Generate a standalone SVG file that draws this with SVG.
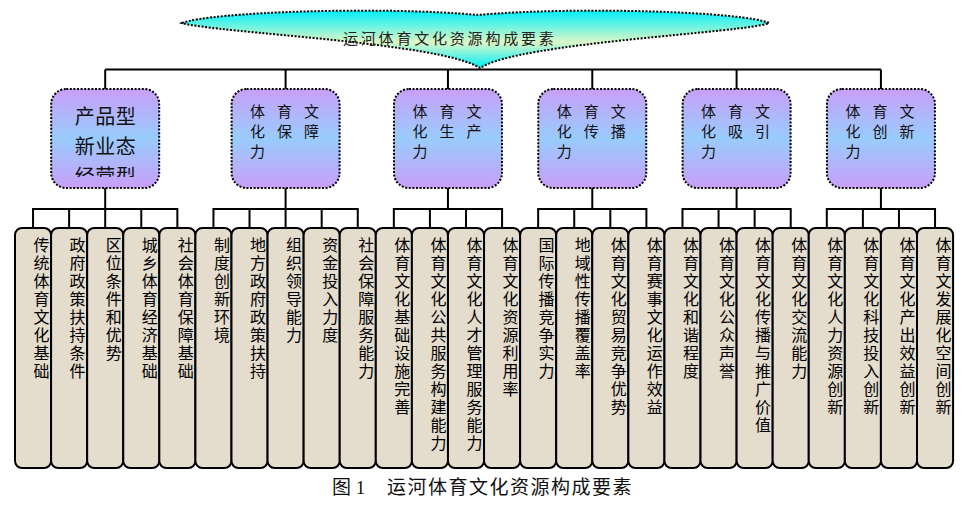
<svg xmlns="http://www.w3.org/2000/svg" width="972" height="517" viewBox="0 0 972 517">
<style>
.cn{fill:none;stroke:#000;stroke-width:2}
.node{stroke:#000;stroke-width:2;stroke-dasharray:2 1.6;fill:url(#ng)}
.leaf{fill:#e4dccd;stroke:#000;stroke-width:2}
.lt{font-family:"Liberation Serif","Noto Sans CJK SC",serif;font-size:16px;fill:#000;writing-mode:vertical-rl;letter-spacing:2px}
.nt{font-family:"Liberation Serif","Noto Sans CJK SC",serif;font-size:15px;fill:#111;letter-spacing:12px}
</style>
<defs>
<linearGradient id="ng" x1="0" y1="0" x2="0" y2="1">
<stop offset="0" stop-color="#c89ff8"/>
<stop offset="0.5" stop-color="#99ccfd"/>
<stop offset="1" stop-color="#c89ff8"/>
</linearGradient>
<linearGradient id="bg" x1="0" y1="0" x2="0" y2="1">
<stop offset="0" stop-color="#00f0fc"/>
<stop offset="0.55" stop-color="#dcf8c6"/>
<stop offset="1" stop-color="#00eefc"/>
</linearGradient>
<clipPath id="c1"><rect x="51" y="89" width="110" height="88"/></clipPath>
</defs>
<rect width="972" height="517" fill="#fff"/>

<g id="banner">
<path d="M182,23 C210,12 380,6 478,15 C580,6 745,12 769,23 C745,33 520,42 480,68 C440,42 215,33 182,23 Z" fill="url(#bg)" stroke="#000" stroke-width="2" stroke-dasharray="2 1.6"/>
<text x="343" y="44" font-family="Liberation Serif,Noto Sans CJK SC,serif" font-size="15" letter-spacing="2.8" fill="#222">运河体育文化资源构成要素</text>
</g>

<g id="connectors">
<path class="cn" d="M105.2,69.5 H880.92 M105.2,69.5 V89 M285.6,69.5 V89 M447.96,69.5 V89 M592.28,69.5 V89 M736.6,69.5 V89 M880.92,69.5 V89"/>
<path class="cn" d="M105.2,188 V209 M33.04,228 V209 H177.36 V228 M69.12,209 V228 M105.2,209 V228 M141.28,209 V228"/>
<path class="cn" d="M285.6,188 V209 M213.44,228 V209 H357.76 V228 M249.52,209 V228 M285.6,209 V228 M321.68,209 V228"/>
<path class="cn" d="M447.96,188 V209 M393.84,228 V209 H502.08 V228 M429.92,209 V228 M466,209 V228"/>
<path class="cn" d="M592.28,188 V209 M538.16,228 V209 H646.4 V228 M574.24,209 V228 M610.32,209 V228"/>
<path class="cn" d="M736.6,188 V209 M682.48,228 V209 H790.72 V228 M718.56,209 V228 M754.64,209 V228"/>
<path class="cn" d="M880.92,188 V209 M826.8,228 V209 H935.04 V228 M862.88,209 V228 M898.96,209 V228"/>
</g>

<g id="n1">
<rect class="node" x="51.2" y="89" width="108" height="99" rx="15"/>
<g clip-path="url(#c1)" font-family="Liberation Serif,Noto Sans CJK SC,serif" font-size="20" fill="#111" text-anchor="middle" letter-spacing="0.5">
<text x="105.5" y="124">产品型</text>
<text x="105.5" y="154">新业态</text>
<text x="105.5" y="184">经营型</text>
</g>
</g>
<g id="n2">
<rect class="node" x="231.6" y="89" width="108" height="99" rx="15"/>
<text class="nt" x="250" y="117">体育文</text><text class="nt" x="250" y="137">化保障</text><text class="nt" x="250" y="157">力</text>
</g>
<g id="n3">
<rect class="node" x="393.96" y="89" width="108" height="99" rx="15"/>
<text class="nt" x="412.5" y="117">体育文</text><text class="nt" x="412.5" y="137">化生产</text><text class="nt" x="412.5" y="157">力</text>
</g>
<g id="n4">
<rect class="node" x="538.28" y="89" width="108" height="99" rx="15"/>
<text class="nt" x="556.8" y="117">体育文</text><text class="nt" x="556.8" y="137">化传播</text><text class="nt" x="556.8" y="157">力</text>
</g>
<g id="n5">
<rect class="node" x="682.6" y="89" width="108" height="99" rx="15"/>
<text class="nt" x="701.1" y="117">体育文</text><text class="nt" x="701.1" y="137">化吸引</text><text class="nt" x="701.1" y="157">力</text>
</g>
<g id="n6">
<rect class="node" x="826.92" y="89" width="108" height="99" rx="15"/>
<text class="nt" x="845.4" y="117">体育文</text><text class="nt" x="845.4" y="137">化创新</text><text class="nt" x="845.4" y="157">力</text>
</g>

<g id="l0"><rect class="leaf" x="15" y="228" width="36.08" height="240" rx="7"/><text class="lt" x="40" y="237">传统体育文化基础</text></g>
<g id="l1"><rect class="leaf" x="51.08" y="228" width="36.08" height="240" rx="7"/><text class="lt" x="76.08" y="237">政府政策扶持条件</text></g>
<g id="l2"><rect class="leaf" x="87.16" y="228" width="36.08" height="240" rx="7"/><text class="lt" x="112.16" y="237">区位条件和优势</text></g>
<g id="l3"><rect class="leaf" x="123.24" y="228" width="36.08" height="240" rx="7"/><text class="lt" x="148.24" y="237">城乡体育经济基础</text></g>
<g id="l4"><rect class="leaf" x="159.32" y="228" width="36.08" height="240" rx="7"/><text class="lt" x="184.32" y="237">社会体育保障基础</text></g>
<g id="l5"><rect class="leaf" x="195.4" y="228" width="36.08" height="240" rx="7"/><text class="lt" x="220.4" y="237">制度创新环境</text></g>
<g id="l6"><rect class="leaf" x="231.48" y="228" width="36.08" height="240" rx="7"/><text class="lt" x="256.48" y="237">地方政府政策扶持</text></g>
<g id="l7"><rect class="leaf" x="267.56" y="228" width="36.08" height="240" rx="7"/><text class="lt" x="292.56" y="237">组织领导能力</text></g>
<g id="l8"><rect class="leaf" x="303.64" y="228" width="36.08" height="240" rx="7"/><text class="lt" x="328.64" y="237">资金投入力度</text></g>
<g id="l9"><rect class="leaf" x="339.72" y="228" width="36.08" height="240" rx="7"/><text class="lt" x="364.72" y="237">社会保障服务能力</text></g>
<g id="l10"><rect class="leaf" x="375.8" y="228" width="36.08" height="240" rx="7"/><text class="lt" x="400.8" y="237">体育文化基础设施完善</text></g>
<g id="l11"><rect class="leaf" x="411.88" y="228" width="36.08" height="240" rx="7"/><text class="lt" x="436.88" y="237">体育文化公共服务构建能力</text></g>
<g id="l12"><rect class="leaf" x="447.96" y="228" width="36.08" height="240" rx="7"/><text class="lt" x="472.96" y="237">体育文化人才管理服务能力</text></g>
<g id="l13"><rect class="leaf" x="484.04" y="228" width="36.08" height="240" rx="7"/><text class="lt" x="509.04" y="237">体育文化资源利用率</text></g>
<g id="l14"><rect class="leaf" x="520.12" y="228" width="36.08" height="240" rx="7"/><text class="lt" x="545.12" y="237">国际传播竞争实力</text></g>
<g id="l15"><rect class="leaf" x="556.2" y="228" width="36.08" height="240" rx="7"/><text class="lt" x="581.2" y="237">地域性传播覆盖率</text></g>
<g id="l16"><rect class="leaf" x="592.28" y="228" width="36.08" height="240" rx="7"/><text class="lt" x="617.28" y="237">体育文化贸易竞争优势</text></g>
<g id="l17"><rect class="leaf" x="628.36" y="228" width="36.08" height="240" rx="7"/><text class="lt" x="653.36" y="237">体育赛事文化运作效益</text></g>
<g id="l18"><rect class="leaf" x="664.44" y="228" width="36.08" height="240" rx="7"/><text class="lt" x="689.44" y="237">体育文化和谐程度</text></g>
<g id="l19"><rect class="leaf" x="700.52" y="228" width="36.08" height="240" rx="7"/><text class="lt" x="725.52" y="237">体育文化公众声誉</text></g>
<g id="l20"><rect class="leaf" x="736.6" y="228" width="36.08" height="240" rx="7"/><text class="lt" x="761.6" y="237">体育文化传播与推广价值</text></g>
<g id="l21"><rect class="leaf" x="772.68" y="228" width="36.08" height="240" rx="7"/><text class="lt" x="797.68" y="237">体育文化交流能力</text></g>
<g id="l22"><rect class="leaf" x="808.76" y="228" width="36.08" height="240" rx="7"/><text class="lt" x="833.76" y="237">体育文化人力资源创新</text></g>
<g id="l23"><rect class="leaf" x="844.84" y="228" width="36.08" height="240" rx="7"/><text class="lt" x="869.84" y="237">体育文化科技投入创新</text></g>
<g id="l24"><rect class="leaf" x="880.92" y="228" width="36.08" height="240" rx="7"/><text class="lt" x="905.92" y="237">体育文化产出效益创新</text></g>
<g id="l25"><rect class="leaf" x="917" y="228" width="36.08" height="240" rx="7"/><text class="lt" x="942" y="237">体育文发展化空间创新</text></g>

<g id="caption" font-family="Liberation Serif,Noto Sans CJK SC,serif" font-size="19" fill="#111">
<text x="332" y="494">图 1<tspan x="387" letter-spacing="1.5">运河体育文化资源构成要素</tspan></text>
</g>
</svg>
